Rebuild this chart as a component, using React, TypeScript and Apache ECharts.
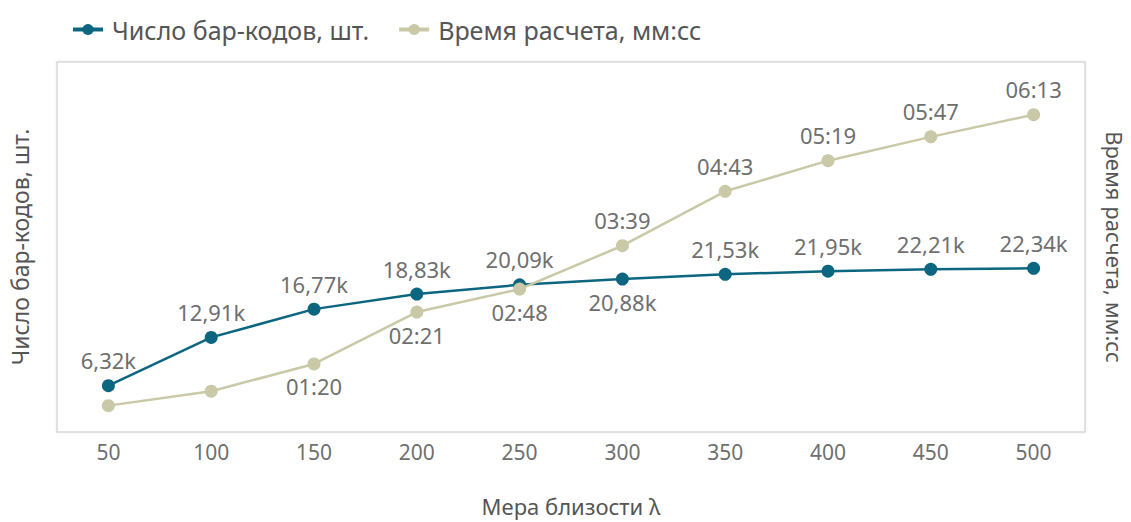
import React, { useEffect, useRef } from "react";
import * as echarts from "echarts";

// Proximity measure λ (x axis categories)
const lambdas = ["50", "100", "150", "200", "250", "300", "350", "400", "450", "500"];
// Number of barcodes, pcs.
const barcodeCounts = [6320, 12910, 16770, 18830, 20090, 20880, 21530, 21950, 22210, 22340];
// Computation time, seconds
const calcSeconds = [31, 48, 80, 141, 168, 219, 283, 319, 347, 373];
// Where each value label sits relative to its point
const countLabelPos = ["top", "top", "top", "top", "top", "bottom", "top", "top", "top", "top"];
const timeLabelPos = ["none", "none", "bottom", "bottom", "bottom", "top", "top", "top", "top", "top"];

const BLUE = "#0d6680";
const TAN = "#c9c8a7";
const TEXT = "#6f6f6f";
const FONT = "'Noto Sans', sans-serif";

const fmtCount = (v: number) => (v / 1000).toFixed(2).replace(".", ",") + "k";
const fmtTime = (s: number) => {
  const m = Math.floor(s / 60);
  const r = s % 60;
  return String(m).padStart(2, "0") + ":" + String(r).padStart(2, "0");
};

const labelAt = (pos: string) =>
  pos === "none"
    ? { show: false }
    : { position: pos as any, distance: pos === "top" ? 8 : 5 };

export default function App() {
  const ref = useRef<HTMLDivElement>(null);

  useEffect(() => {
    document.body.style.margin = "0";
    if (!ref.current) return;
    const chart = echarts.init(ref.current, null, { renderer: "svg" });

    const countData = barcodeCounts.map((v, i) => ({
      value: v,
      label: labelAt(countLabelPos[i]),
    }));
    const timeData = calcSeconds.map((v, i) => ({
      value: v,
      label: labelAt(timeLabelPos[i]),
    }));

    chart.setOption({
      animation: false,
      textStyle: { fontFamily: FONT },
      legend: {
        left: 66,
        top: 12,
        itemWidth: 30,
        itemHeight: 14,
        itemGap: 28,
        lineStyle: { width: 4 },
        textStyle: {
          color: "#555",
          fontSize: 25,
          fontFamily: FONT,
          padding: [0, 0, 0, 4],
        },
        data: ["Число бар-кодов, шт.", "Время расчета, мм:сс"],
      },
      grid: {
        left: 57,
        right: 46,
        top: 62,
        bottom: 90,
        outerBoundsMode: "none",
        show: true,
        borderColor: "#d9d9d9",
        borderWidth: 1.5,
        backgroundColor: "#fff",
        shadowColor: "rgba(0,0,0,0.08)",
        shadowBlur: 3,
      },
      xAxis: {
        type: "category",
        data: lambdas,
        boundaryGap: true,
        name: "Мера близости λ",
        nameLocation: "middle",
        nameGap: 63,
        nameTextStyle: { color: "#555", fontSize: 22, fontFamily: FONT },
        axisLine: { show: false },
        axisTick: { show: false },
        axisLabel: { color: TEXT, fontSize: 21, margin: 9, fontFamily: FONT },
        splitLine: { show: false },
      },
      yAxis: [
        {
          type: "value",
          min: 0,
          max: 50500,
          name: "Число бар-кодов, шт.",
          nameLocation: "middle",
          nameRotate: 90,
          nameGap: 26,
          nameTextStyle: { color: "#555", fontSize: 23, fontFamily: FONT },
          axisLine: { show: false },
          axisTick: { show: false },
          axisLabel: { show: false },
          splitLine: { show: false },
        },
        {
          type: "value",
          min: 0,
          max: 435,
          position: "right",
          name: "Время расчета, мм:сс",
          nameLocation: "middle",
          nameRotate: -90,
          nameGap: 18,
          nameTextStyle: {
            color: "#555",
            fontSize: 22,
            lineHeight: 24,
            fontFamily: FONT,
          },
          axisLine: { show: false },
          axisTick: { show: false },
          axisLabel: { show: false },
          splitLine: { show: false },
        },
      ],
      series: [
        {
          name: "Число бар-кодов, шт.",
          type: "line",
          yAxisIndex: 0,
          data: countData,
          symbol: "circle",
          symbolSize: 13,
          itemStyle: { color: BLUE },
          lineStyle: { color: BLUE, width: 2.5 },
          label: {
            show: true,
            color: TEXT,
            fontSize: 22,
            fontFamily: FONT,
            formatter: (p: any) => fmtCount(p.value),
          },
          z: 3,
        },
        {
          name: "Время расчета, мм:сс",
          type: "line",
          yAxisIndex: 1,
          data: timeData,
          symbol: "circle",
          symbolSize: 13,
          itemStyle: { color: TAN },
          lineStyle: { color: TAN, width: 2.5 },
          label: {
            show: true,
            color: TEXT,
            fontSize: 22,
            fontFamily: FONT,
            formatter: (p: any) => fmtTime(p.value),
          },
          z: 4,
        },
      ],
    });

    return () => chart.dispose();
  }, []);

  return <div ref={ref} style={{ width: 1131, height: 522 }} />;
}
